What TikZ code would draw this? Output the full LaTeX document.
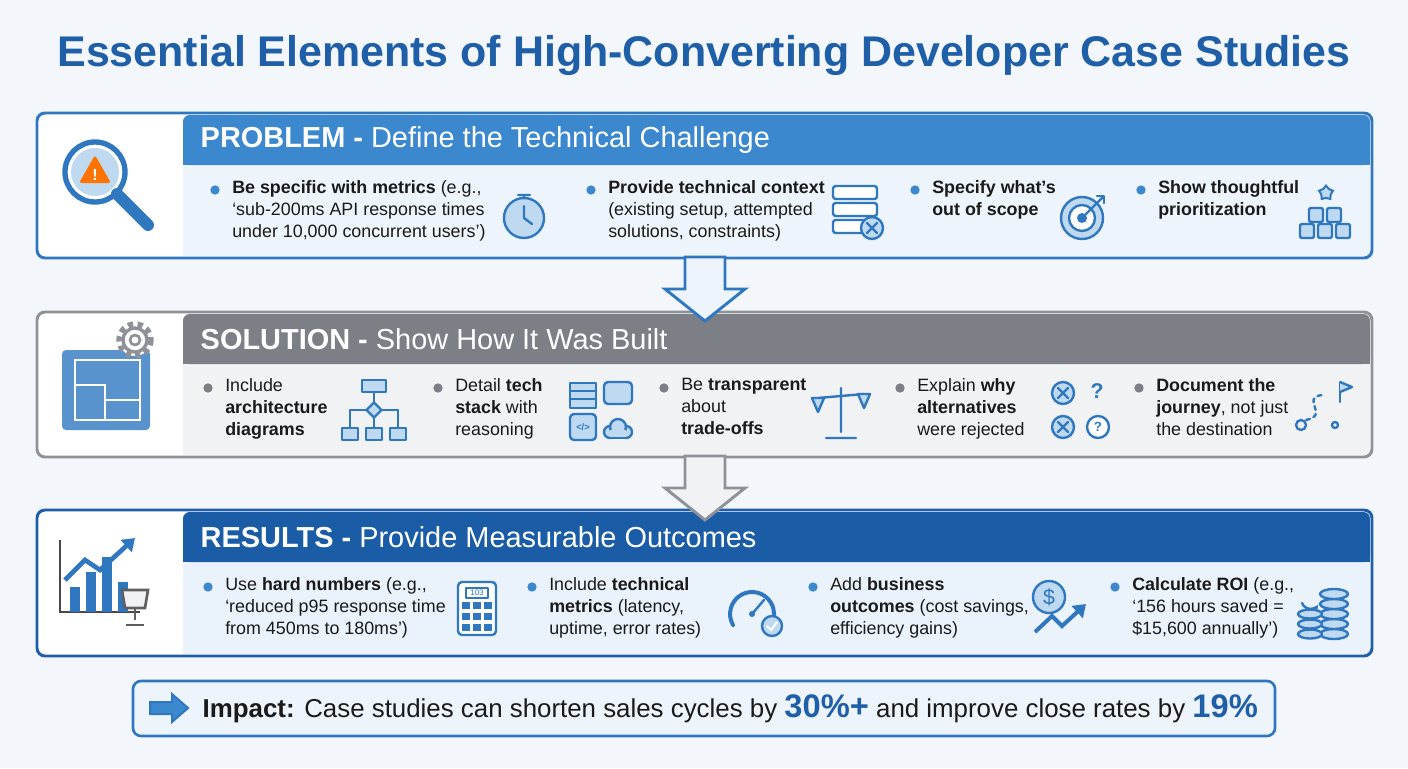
\documentclass[tikz,border=0pt]{standalone}
\usepackage{fontspec}
\setmainfont{Liberation Sans}
\usetikzlibrary{shapes.geometric,shapes.arrows,arrows.meta}
\definecolor{pagebg}{HTML}{F3F6FA}
\definecolor{ttl}{HTML}{1E5FA8}
\definecolor{pA}{HTML}{3C88CE}
\definecolor{pAb}{HTML}{2F78C0}
\definecolor{pAf}{HTML}{EDF4FB}
\definecolor{pB}{HTML}{7C7F86}
\definecolor{pBb}{HTML}{8E9197}
\definecolor{pBf}{HTML}{F1F2F4}
\definecolor{pC}{HTML}{1B5CA7}
\definecolor{pCb}{HTML}{1E5EA8}
\definecolor{pCf}{HTML}{EAF2FB}
\definecolor{ico}{HTML}{2F78C0}
\definecolor{icof}{HTML}{BFD9F1}
\definecolor{txt}{HTML}{1A1A1A}
\tikzset{
 hdr/.style={anchor=west,text=white,font=\fontsize{21.7}{26}\selectfont},
 item/.style={anchor=north west,align=left,text=txt,font=\fontsize{13.4}{16.5}\selectfont,inner sep=0},
 bul/.style={circle,inner sep=0,minimum size=7},
 ic/.style={draw=ico,line width=1.8,fill=icof,line join=round},
 icl/.style={draw=ico,line width=1.8,line cap=round,line join=round},
}
\begin{document}
\begin{tikzpicture}[x=0.75pt,y=-0.75pt]
\fill[pagebg] (0,0) rectangle (1408,768);
\node[text=ttl,font=\bfseries\fontsize{32.2}{36}\selectfont] (title) at (704,55) {Essential Elements of High-Converting Developer Case Studies};

\newcommand{\panel}[5]{%
 \fill[white,rounded corners=6] (37,#1) rectangle (1372,#2);
 \fill[#5] (183,#1+52) rectangle (1370,#2-2);
 \fill[#3,rounded corners=5] (183,#1+2) rectangle (1370,#1+52);
 \fill[#3] (183,#1+30) rectangle (1370,#1+52);
 \draw[#4,line width=2.2,rounded corners=6] (37,#1) rectangle (1372,#2);
}
\newcommand{\darrow}[3]{% y0, border, fill
 \draw[#2,fill=#3,line width=2.2,line join=miter] (685,#1) -- (725,#1) -- (725,#1+32) -- (745,#1+32) -- (705,#1+64) -- (665,#1+32) -- (685,#1+32) -- cycle;
}
\panel{113}{258}{pA}{pAb}{pAf}
\panel{312}{457}{pB}{pBb}{pBf}
\panel{510}{656}{pC}{pCb}{pCf}
\darrow{257}{pAb}{pAf}
\darrow{456}{pBb}{pBf}

\node[hdr] (h1) at (196,140) {\textbf{PROBLEM -} Define the Technical Challenge};
\node[hdr] (h2) at (196,339) {\textbf{SOLUTION -} Show How It Was Built};
\node[hdr] (h3) at (196,537) {\textbf{RESULTS -} Provide Measurable Outcomes};

\node[bul,fill=pA] (b11) at (215,190) {};
\node[item] (t11) at (232,180) {\textbf{Be specific with metrics} (e.g.,\\‘sub-200ms API response times\\under 10,000 concurrent users’)};
\node[bul,fill=pA] (b12) at (591,190) {};
\node[item] (t12) at (608,180) {\textbf{Provide technical context}\\(existing setup, attempted\\solutions, constraints)};
\node[bul,fill=pA] (b13) at (915,190) {};
\node[item] (t13) at (932,180) {\textbf{Specify what’s}\\\textbf{out of scope}};
\node[bul,fill=pA] (b14) at (1141,190) {};
\node[item] (t14) at (1158,180) {\textbf{Show thoughtful}\\\textbf{prioritization}};

\node[bul,fill=pB] (b21) at (208,388) {};
\node[item] (t21) at (225,378) {Include\\\textbf{architecture}\\\textbf{diagrams}};
\node[bul,fill=pB] (b22) at (438,388) {};
\node[item] (t22) at (455,378) {Detail \textbf{tech}\\\textbf{stack} with\\reasoning};
\node[bul,fill=pB] (b23) at (664,388) {};
\node[item] (t23) at (681,378) {Be \textbf{transparent}\\about\\\textbf{trade-offs}};
\node[bul,fill=pB] (b24) at (900,388) {};
\node[item] (t24) at (917,378) {Explain \textbf{why}\\\textbf{alternatives}\\were rejected};
\node[bul,fill=pB] (b25) at (1139,388) {};
\node[item] (t25) at (1156,378) {\textbf{Document the}\\\textbf{journey}, not just\\the destination};

\node[bul,fill=pA] (b31) at (208,587) {};
\node[item] (t31) at (225,577) {Use \textbf{hard numbers} (e.g.,\\‘reduced p95 response time\\from 450ms to 180ms’)};
\node[bul,fill=pA] (b32) at (532,587) {};
\node[item] (t32) at (549,577) {Include \textbf{technical}\\\textbf{metrics} (latency,\\uptime, error rates)};
\node[bul,fill=pA] (b33) at (813,587) {};
\node[item] (t33) at (830,577) {Add \textbf{business}\\\textbf{outcomes} (cost savings,\\efficiency gains)};
\node[bul,fill=pA] (b34) at (1115,587) {};
\node[item] (t34) at (1132,577) {\textbf{Calculate ROI} (e.g.,\\‘156 hours saved =\\\$15,600 annually’)};

% magnifier
\draw[ico,line width=4,fill=white] (95,172) circle (30);
\fill[icof] (95,172) circle (24);
\draw[ico,line width=9,line cap=round] (117,194) -- (148,225);
\fill[orange!90!red,rounded corners=2] (95,155) -- (111,183) -- (79,183) -- cycle;
\node[text=white,font=\bfseries\fontsize{12}{12}\selectfont] (ex) at (95,175) {!};
% blueprint + gear
\fill[ico!80,rounded corners=3] (62,350) rectangle (150,430);
\draw[white,line width=1.2] (75,360) rectangle (140,420) (75,385) -- (105,385) -- (105,420) (105,400) -- (140,400);
\draw[pBb,line width=4,dash pattern=on 4 off 3.3,fill=white] (135,340) circle (16);
\draw[pBb,line width=2.5,fill=white] (135,340) circle (12);
\draw[pBb,line width=2,fill=white] (135,340) circle (5);
% chart + trophy
\draw[txt!80,line width=2] (60,540) -- (60,612) -- (140,612);
\foreach \xx/\hh in {70/25,86/40,102/55,118/30}{\fill[ico] (\xx,612) rectangle (\xx+10,612-\hh);}
\draw[ico,line width=3.5,-{Triangle[length=9,width=12]}] (65,580) -- (85,560) -- (100,570) -- (135,538);
\draw[txt!70,line width=2,fill=pBf] (122,590) -- (148,590) -- (145,608) -- (125,608) -- cycle;
\draw[txt!70,line width=2] (135,608) -- (135,620) (126,625) -- (144,625);

% panel 1 icons
\draw[ic] (524,218) circle (20); \draw[icl] (524,218) -- (524,206) (524,218) -- (532,224) (518,195) -- (530,195) (524,195) -- (524,198);
\foreach \yy in {186,203,220}{\draw[ic,fill=white,rounded corners=2] (833,\yy) rectangle (877,\yy+13);}
\draw[ic] (872,228) circle (11); \draw[icl] (867,223) -- (877,233) (877,223) -- (867,233);
\draw[ic] (1082,218) circle (21); \draw[ic,fill=white] (1082,218) circle (13); \fill[ico] (1082,218) circle (5);
\draw[icl] (1082,218) -- (1102,198); \draw[icl] (1097,196) -- (1104,196) -- (1104,203);
\foreach \xx/\yy in {1300/224,1318/224,1336/224,1309/208,1327/208}{\draw[ic,rounded corners=1.5] (\xx,\yy) rectangle (\xx+14,\yy+14);}
\node[star,star points=5,draw=ico,fill=icof,line width=1.5,minimum size=11,inner sep=0] (st) at (1326,193) {};

% panel 2 icons
\draw[ic] (362,380) rectangle (386,392); \draw[icl] (374,392) -- (374,402);
\node[diamond,draw=ico,fill=icof,line width=1.8,minimum size=12,inner sep=0] (dm) at (374,410) {};
\draw[icl] (350,410) -- (366,410) (382,410) -- (398,410) (350,410) -- (350,428) (374,418) -- (374,428) (398,410) -- (398,428);
\foreach \xx in {342,366,390}{\draw[ic] (\xx,428) rectangle (\xx+16,440);}
\draw[ic] (570,383) rectangle (596,408); \draw[icl] (570,391) -- (596,391) (570,399) -- (596,399);
\draw[ic,rounded corners=3] (604,382) rectangle (632,404);
\draw[ic,rounded corners=3] (570,414) rectangle (596,440); \node[text=ico,font=\fontsize{7}{7}\selectfont\bfseries] (cd) at (583,427) {</>};
\draw[ic] (610,432) circle (6); \draw[ic] (626,432) circle (6); \draw[ic] (618,427) circle (8);
\fill[icof] (610,430) rectangle (626,437); \draw[icl] (610,438) -- (626,438);
\draw[icl] (841,388) -- (841,432) (826,438) -- (856,438) (818,398) -- (864,394);
\draw[ic] (812,398) -- (824,398) -- (818,412) -- cycle; \draw[ic] (858,394) -- (870,394) -- (864,408) -- cycle;
\draw[ic] (1063,393) circle (11); \draw[ic] (1063,427) circle (11);
\draw[icl] (1058,388) -- (1068,398) (1068,388) -- (1058,398) (1058,422) -- (1068,432) (1068,422) -- (1058,432);
\draw[ic,fill=white] (1098,427) circle (11);
\node[text=ico,font=\bfseries\fontsize{16}{16}\selectfont] (qm) at (1097,391) {?};
\node[text=ico,font=\bfseries\fontsize{10}{10}\selectfont] (qm2) at (1098,427) {?};
\draw[icl] (1301,425) circle (5); \draw[icl,dashed] (1306,420) .. controls (1330,415) and (1300,398) .. (1322,395);
\draw[icl] (1335,425) circle (3); \draw[icl] (1340,382) -- (1340,402); \draw[ic] (1340,382) -- (1352,387) -- (1340,392);

% panel 3 icons
\draw[ic,fill=white,rounded corners=3] (458,582) rectangle (496,635);
\draw[ic,fill=white] (466,588) rectangle (488,598);
\node[text=ico,font=\fontsize{6}{6}\selectfont] (cl) at (477,593) {103};
\foreach \xx in {466,477,488}{\foreach \yy in {606,617,628}{\fill[ico] (\xx-4,\yy-4) rectangle (\xx+4,\yy+3);}}
\draw[icl,line width=3] (733,625) arc(150:390:22);
\draw[icl] (752,614) -- (764,600);
\fill[ico] (752,614) circle (3);
\draw[ic] (772,626) circle (10); \draw[white,line width=1.5] (767,626) -- (771,630) -- (777,622);
\draw[ic] (1049,597) circle (16); \node[text=ico,font=\fontsize{16}{16}\selectfont] (dl) at (1049,597) {\$};
\draw[ico,line width=3,-{Triangle[length=9,width=12]}] (1035,632) -- (1052,616) -- (1062,626) -- (1086,604);
\foreach \yy in {634,624,614,604,594}{\draw[ic] (1334,\yy) ellipse (14 and 5);}
\foreach \yy in {634,624,614}{\draw[ic] (1310,\yy) ellipse (12 and 4.5);}
\draw[icl,-{Stealth[length=5]}] (1302,603) arc(160:30:9);

% impact box
\draw[pAb,line width=2,fill=pAf,rounded corners=6] (133,681) rectangle (1275,736);
\draw[pAb,fill=pA,line width=1.5,line join=miter] (150,702) -- (172,702) -- (172,694) -- (188,708) -- (172,722) -- (172,714) -- (150,714) -- cycle;
\node[anchor=west,text=txt,font=\fontsize{19.4}{22}\selectfont] (impt) at (198,709) {\textbf{Impact:} Case studies can shorten sales cycles by {\color{ttl}\bfseries\fontsize{24.5}{24}\selectfont 30\%+} and improve close rates by {\color{ttl}\bfseries\fontsize{24.5}{24}\selectfont 19\%}};
\end{tikzpicture}
\end{document}
